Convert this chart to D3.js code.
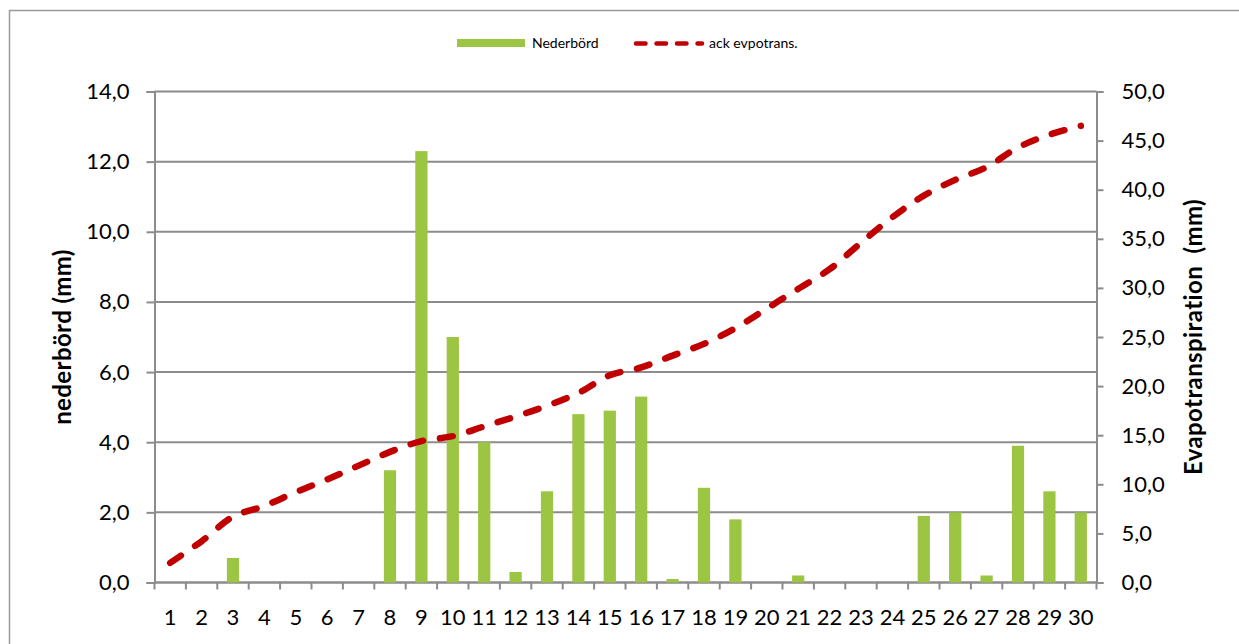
<!DOCTYPE html>
<html>
<head>
<meta charset="utf-8">
<script src="https://cdn.jsdelivr.net/npm/d3@7"></script>
<style>
  html, body { margin: 0; padding: 0; background: #fff; }
  svg { display: block; font-family: Lato, "Open Sans", sans-serif; }
</style>
</head>
<body>
<svg id="chart" width="1239" height="644"></svg>
<script>
// Days of the month
const days = d3.range(1, 31).map(String);
// Daily precipitation (mm)
const nederbord = [0, 0, 0.7, 0, 0, 0, 0, 3.2, 12.3, 7.0,
                   4.0, 0.3, 2.6, 4.8, 4.9, 5.3, 0.1, 2.7, 1.8, 0,
                   0.2, 0, 0, 0, 1.9, 2.0, 0.2, 3.9, 2.6, 2.0];
// Accumulated evapotranspiration (mm)
const ackEvpotrans = [2.0, 4.2, 6.7, 7.8, 9.2, 10.5, 11.9, 13.3, 14.4, 14.9,
                      15.9, 16.9, 18.0, 19.3, 21.1, 21.9, 23.1, 24.3, 25.9, 27.9,
                      29.9, 31.9, 34.6, 37.2, 39.4, 41.0, 42.3, 44.3, 45.6, 46.5];
const leftTicks = [0, 2, 4, 6, 8, 10, 12, 14];
const rightTicks = [0, 5, 10, 15, 20, 25, 30, 35, 40, 45, 50];
const seriesNames = ["Nederbörd", "ack evpotrans."];

const svg = d3.select("#chart");
const plot = { left: 154.5, right: 1096.5, top: 91.5, bottom: 582.5 };
const grey = "#8c8c8c";
const green = "#9dc544";
const red = "#c00000";
const fmt = v => d3.format(".1f")(v).replace(".", ",");

// outer frame
svg.append("rect")
  .attr("x", 9.5).attr("y", 10.5).attr("width", 1240).attr("height", 650)
  .attr("fill", "none").attr("stroke", "#9a9a9a").attr("stroke-width", 1.5);

const x = d3.scaleBand().domain(days).range([plot.left, plot.right]).padding(0);
const yL = d3.scaleLinear().domain([0, 14]).range([plot.bottom, plot.top]);
const yR = d3.scaleLinear().domain([0, 50]).range([plot.bottom, plot.top]);

// horizontal gridlines
svg.append("g").selectAll("line").data(leftTicks).join("line")
  .attr("x1", plot.left).attr("x2", plot.right)
  .attr("y1", d => yL(d)).attr("y2", d => yL(d))
  .attr("stroke", grey).attr("stroke-width", 2);

// left axis
const axL = svg.append("g").attr("transform", `translate(${plot.left},0)`)
  .call(d3.axisLeft(yL).tickValues(leftTicks).tickFormat(fmt).tickSize(8).tickPadding(17));
axL.select(".domain").attr("stroke", grey).attr("stroke-width", 2);
axL.selectAll(".tick line").attr("stroke", grey).attr("stroke-width", 2);
axL.selectAll(".tick text").attr("font-family", "Lato").attr("font-size", 22).attr("fill", "#000");

// right axis
const axR = svg.append("g").attr("transform", `translate(${plot.right},0)`)
  .call(d3.axisRight(yR).tickValues(rightTicks).tickFormat(fmt).tickSize(7).tickPadding(18));
axR.select(".domain").attr("stroke", grey).attr("stroke-width", 2);
axR.selectAll(".tick line").attr("stroke", grey).attr("stroke-width", 2);
axR.selectAll(".tick text").attr("font-family", "Lato").attr("font-size", 22).attr("fill", "#000");

// bottom axis: ticks on category boundaries, labels centred
const bx = svg.append("g");
bx.append("line").attr("x1", plot.left).attr("x2", plot.right)
  .attr("y1", plot.bottom).attr("y2", plot.bottom)
  .attr("stroke", grey).attr("stroke-width", 2);
const bounds = days.map(d => x(d)).concat([plot.right]);
bx.selectAll("line.tk").data(bounds).join("line").attr("class", "tk")
  .attr("x1", d => d).attr("x2", d => d)
  .attr("y1", plot.bottom).attr("y2", plot.bottom + 7)
  .attr("stroke", grey).attr("stroke-width", 2);
bx.selectAll("text").data(days).join("text")
  .attr("x", d => x(d) + x.bandwidth() / 2).attr("y", 625)
  .attr("text-anchor", "middle").attr("font-size", 22).attr("fill", "#000")
  .text(d => d);

// precipitation bars
const barFrac = 0.39;
svg.append("g").selectAll("rect").data(nederbord).join("rect")
  .attr("x", (d, i) => x(days[i]) + x.bandwidth() * (1 - barFrac) / 2)
  .attr("width", x.bandwidth() * barFrac)
  .attr("y", d => yL(d))
  .attr("height", d => yL(0) - yL(d))
  .attr("fill", green);

// accumulated evapotranspiration line
const line = d3.line()
  .x((d, i) => x(days[i]) + x.bandwidth() / 2)
  .y(d => yR(d))
  .curve(d3.curveCatmullRom.alpha(0.5));
svg.append("path").datum(ackEvpotrans)
  .attr("d", line)
  .attr("fill", "none").attr("stroke", red).attr("stroke-width", 6.5)
  .attr("stroke-linecap", "round").attr("stroke-dasharray", "13,17");

// axis titles
svg.append("text")
  .attr("transform", `translate(71,${(plot.top + plot.bottom) / 2}) rotate(-90)`)
  .attr("text-anchor", "middle").attr("font-weight", "bold").attr("font-size", 24)
  .attr("letter-spacing", 0.4)
  .attr("fill", "#000").text("nederbörd (mm)");
svg.append("text")
  .attr("transform", `translate(1202,${(plot.top + plot.bottom) / 2}) rotate(-90)`)
  .attr("text-anchor", "middle").attr("font-weight", "bold").attr("font-size", 24)
  .attr("letter-spacing", 0.4)
  .attr("fill", "#000").attr("xml:space", "preserve").style("white-space", "pre")
  .text("Evapotranspiration  (mm)");

// legend
const lg = svg.append("g");
lg.append("rect").attr("x", 457).attr("y", 39).attr("width", 68).attr("height", 8).attr("fill", green);
lg.append("text").attr("x", 532).attr("y", 48).attr("font-size", 14).attr("fill", "#000").text(seriesNames[0]);
lg.append("line").attr("x1", 636).attr("x2", 702).attr("y1", 43.5).attr("y2", 43.5)
  .attr("stroke", red).attr("stroke-width", 4.5).attr("stroke-linecap", "round")
  .attr("stroke-dasharray", "9.5,11");
lg.append("text").attr("x", 709).attr("y", 48).attr("font-size", 14).attr("fill", "#000").text(seriesNames[1]);
</script>
</body>
</html>
